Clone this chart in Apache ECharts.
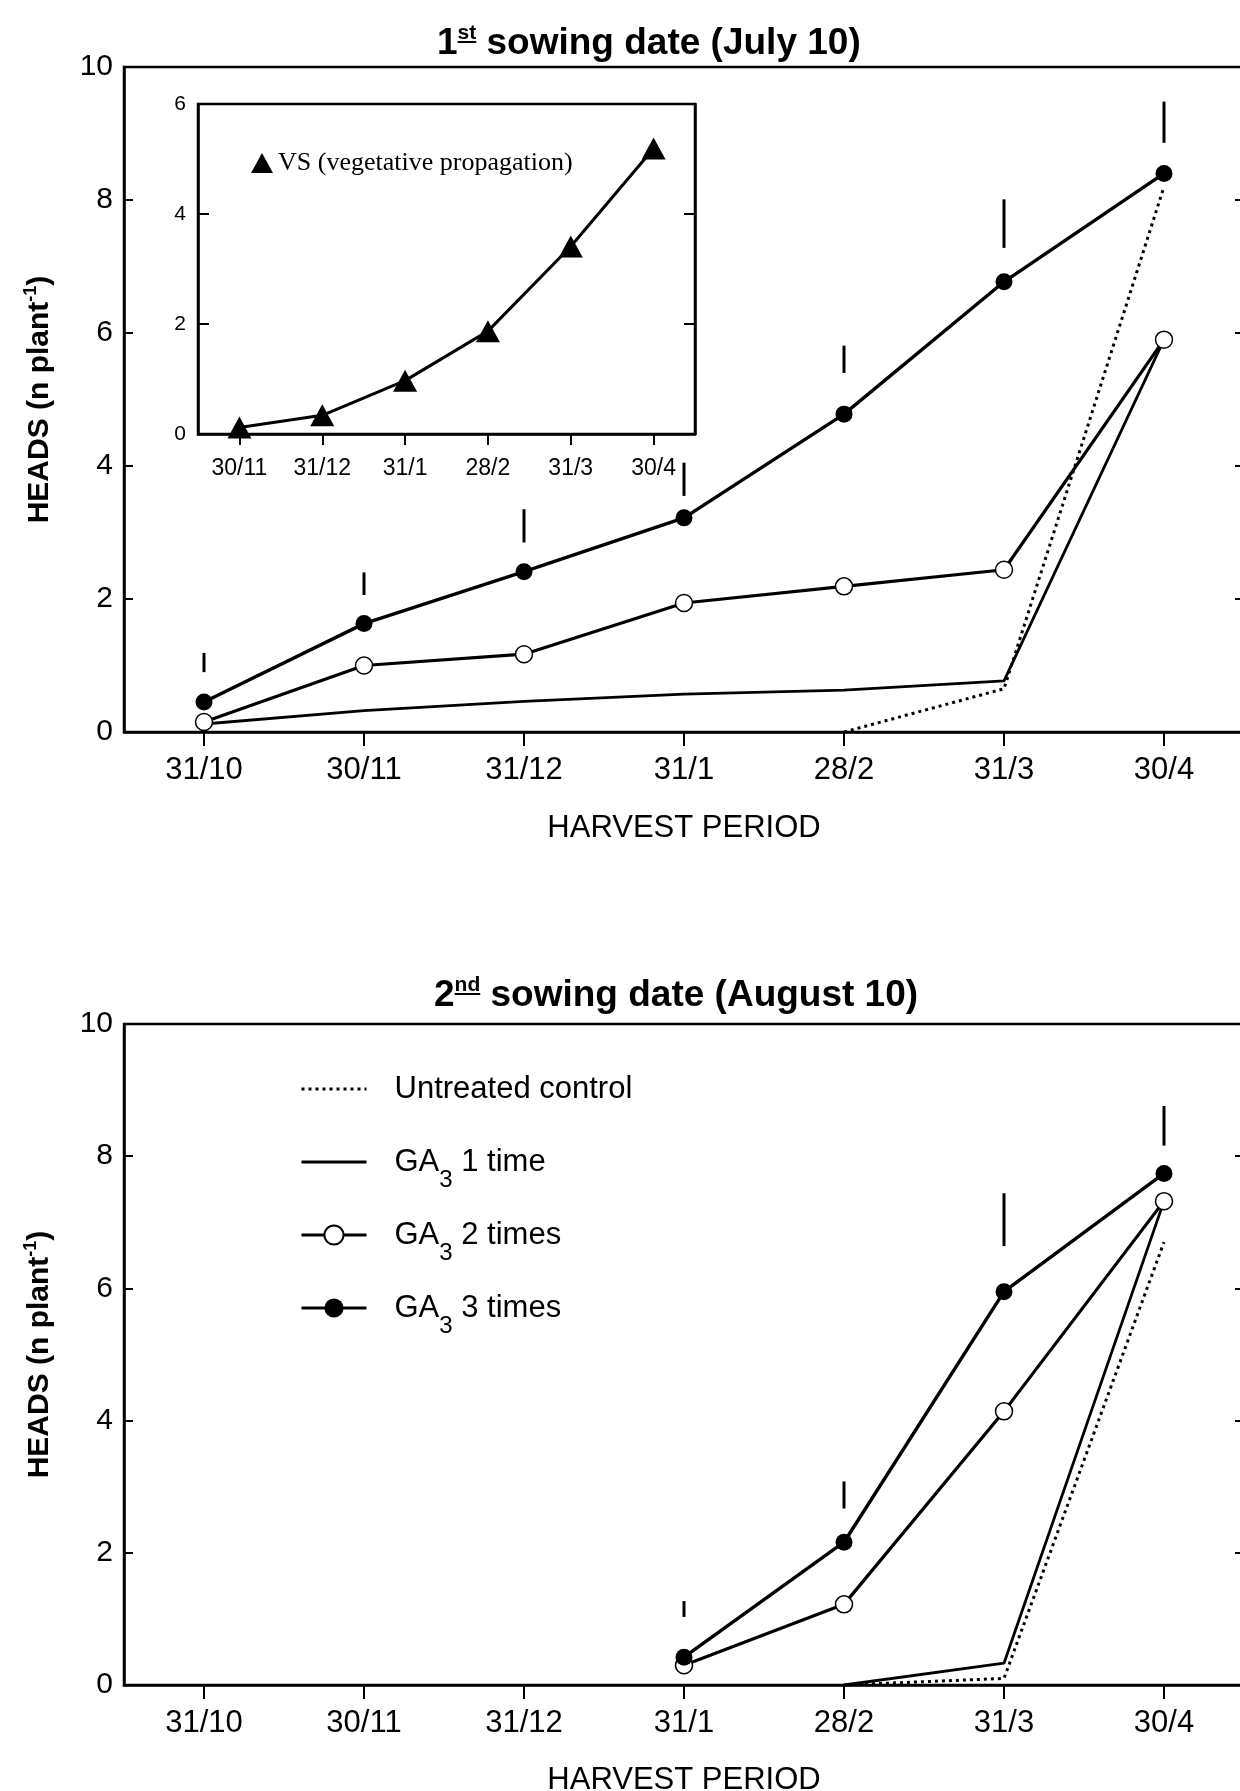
<!DOCTYPE html>
<html><head><meta charset="utf-8">
<script src="https://cdn.jsdelivr.net/npm/echarts@6/dist/echarts.min.js"></script>
<style>html,body{margin:0;padding:0;background:#fff}#c{width:1240px;height:1791px}</style>
</head><body><div id="c"></div>
<script>
// ---------- data ----------
const categories = ['31/10', '30/11', '31/12', '31/1', '28/2', '31/3', '30/4'];
const insetCategories = ['30/11', '31/12', '31/1', '28/2', '31/3', '30/4'];
const seriesNames = ['Untreated control', 'GA3 1 time', 'GA3 2 times', 'GA3 3 times'];
const insetName = 'VS (vegetative propagation)';
const titleTop = ['1', 'st', ' sowing date (July 10)'];
const titleBottom = ['2', 'nd', ' sowing date (August 10)'];
const yAxisName = ['HEADS (n plant', '-1', ')'];
const xAxisName = 'HARVEST PERIOD';

const vsValues = [0.12, 0.34, 0.97, 1.87, 3.41, 5.19];

const julyControl = [null, null, null, null, 0, 0.65, 8.2];
const julyGa1 = [0.12, 0.32, 0.46, 0.57, 0.63, 0.77, 5.9];
const julyGa2 = [0.15, 1.0, 1.17, 1.94, 2.19, 2.44, 5.9];
const julyGa3 = [0.45, 1.63, 2.41, 3.22, 4.78, 6.77, 8.4];
// [category index, low, high]
const julyLsd = [[0, 0.90, 1.19], [1, 2.06, 2.40], [2, 2.85, 3.35], [3, 3.55, 4.05], [4, 5.40, 5.81], [5, 7.28, 8.01], [6, 8.86, 9.48]];

const augControl = [null, null, null, null, 0, 0.1, 6.7];
const augGa1 = [null, null, null, null, 0, 0.33, 7.32];
const augGa2 = [null, null, null, 0.30, 1.22, 4.14, 7.32];
const augGa3 = [null, null, null, 0.42, 2.16, 5.95, 7.74];
const augLsd = [[3, 1.03, 1.27], [4, 2.67, 3.08], [5, 6.64, 7.44], [6, 8.16, 8.76]];

// ---------- styling ----------
const SANS = '"Liberation Sans", Arial, Helvetica, sans-serif';
const SERIF = '"Liberation Serif", "Times New Roman", serif';
const BLACK = '#000';
const axisLine = { show: true, onZero: false, lineStyle: { color: BLACK, width: 2.5 } };

const G = [
  { left: 124, top: 67, width: 1120, height: 665 },
  { left: 124, top: 1024, width: 1120, height: 661 },
  { left: 198, top: 104, width: 497, height: 330 }
];

function mainX(gi, gap) {
  return {
    type: 'category', gridIndex: gi, data: categories, boundaryGap: true,
    axisLine: axisLine,
    axisTick: { show: true, alignWithLabel: true, length: 14, lineStyle: { color: BLACK, width: 2 } },
    axisLabel: { color: BLACK, fontSize: 31, fontFamily: SANS, margin: 23, interval: 0 },
    splitLine: { show: false },
    name: xAxisName, nameLocation: 'middle', nameGap: gap,
    nameTextStyle: { color: BLACK, fontSize: 31, fontFamily: SANS }
  };
}
const supRich = { sup: { fontSize: 18, fontWeight: 'bold', fontFamily: SANS, color: BLACK, verticalAlign: 'top', lineHeight: 18 } };
function mainY(gi) {
  return {
    type: 'value', gridIndex: gi, min: 0, max: 10, interval: 2, position: 'left',
    axisLine: axisLine,
    axisTick: { show: true, inside: true, length: 9, lineStyle: { color: BLACK, width: 2 } },
    axisLabel: { color: BLACK, fontSize: 30, fontFamily: SANS, margin: 11 },
    splitLine: { show: false },
    name: yAxisName[0] + '{sup|' + yAxisName[1] + '}' + yAxisName[2],
    nameLocation: 'middle', nameRotate: 90, nameGap: 66,
    nameTextStyle: { color: BLACK, fontSize: 30, fontWeight: 'bold', fontFamily: SANS, lineHeight: 36, rich: supRich }
  };
}
function rightY(gi, max, interval, len) {
  return {
    type: 'value', gridIndex: gi, min: 0, max: max, interval: interval, position: 'right',
    axisLine: axisLine,
    axisTick: { show: true, inside: true, length: len, lineStyle: { color: BLACK, width: 2 } },
    axisLabel: { show: false }, splitLine: { show: false }
  };
}

function lineSeries(kind, name, data, xi, yi) {
  const s = {
    type: 'line', name: name, data: data, xAxisIndex: xi, yAxisIndex: yi,
    connectNulls: false, silent: true, emphasis: { disabled: true }, z: 3
  };
  if (kind === 0) {
    s.symbol = 'none';
    s.itemStyle = { color: BLACK };
    s.lineStyle = { color: BLACK, width: 3, type: [3, 4] };
  } else if (kind === 1) {
    s.symbol = 'none';
    s.itemStyle = { color: BLACK };
    s.lineStyle = { color: BLACK, width: 2.8 };
  } else if (kind === 2) {
    s.symbol = 'circle'; s.symbolSize = 17;
    s.itemStyle = { color: '#fff', borderColor: BLACK, borderWidth: 1.5 };
    s.lineStyle = { color: BLACK, width: 3.2 };
    s.z = 4;
  } else {
    s.symbol = 'circle'; s.symbolSize = 17;
    s.itemStyle = { color: BLACK };
    s.lineStyle = { color: BLACK, width: 3.4 };
    s.z = 5;
  }
  return s;
}

function lsdSeries(data, xi, yi) {
  return {
    type: 'custom', data: data, xAxisIndex: xi, yAxisIndex: yi, silent: true, z: 6,
    encode: { x: 0, y: [1, 2] },
    renderItem: function (params, api) {
      const p1 = api.coord([api.value(0), api.value(1)]);
      const p2 = api.coord([api.value(0), api.value(2)]);
      return { type: 'line', shape: { x1: p1[0], y1: p1[1], x2: p2[0], y2: p2[1] },
        style: { stroke: BLACK, lineWidth: 3 } };
    }
  };
}

// measure text for title underline decorations
const mctx = document.createElement('canvas').getContext('2d');
function tw(txt, font) { mctx.font = font; return mctx.measureText(txt).width; }
const TITLE_FS = 37, SUP_FS = 21;
const titleFont = 'bold ' + TITLE_FS + 'px ' + SANS;
const supFont = 'bold ' + SUP_FS + 'px ' + SANS;
const titleDefs = [
  { parts: titleTop, left: 437, top: 23 },
  { parts: titleBottom, left: 434, top: 975 }
];
const titles = titleDefs.map(d => ({
  text: d.parts[0] + '{sup|' + d.parts[1] + '}' + d.parts[2],
  left: d.left, top: d.top, padding: 0,
  textStyle: {
    color: BLACK, fontSize: TITLE_FS, fontWeight: 'bold', fontFamily: SANS, lineHeight: 42,
    rich: { sup: { fontSize: SUP_FS, fontWeight: 'bold', fontFamily: SANS, color: BLACK, verticalAlign: 'top', lineHeight: 22 } }
  }
}));
const underlines = titleDefs.map(d => {
  const x1 = d.left + tw(d.parts[0], titleFont);
  const x2 = x1 + tw(d.parts[1], supFont);
  const y = d.top + 19;
  return { type: 'line', shape: { x1: x1, y1: y, x2: x2, y2: y }, style: { stroke: BLACK, lineWidth: 2 }, silent: true };
});

const noSymbol = { color: 'rgba(0,0,0,0)', borderWidth: 0 };
const legendData = seriesNames.map((n, i) => i < 2 ? { name: n, itemStyle: noSymbol } : { name: n });

const option = {
  animation: false,
  backgroundColor: '#fff',
  title: titles,
  graphic: underlines,
  grid: G.map((g, i) => Object.assign({
    show: true, borderColor: BLACK, borderWidth: 2.5,
    backgroundColor: i === 2 ? '#fff' : 'transparent',
    containLabel: false, outerBoundsMode: 'none'
  }, g)),
  xAxis: [
    mainX(0, 81),
    mainX(1, 80),
    {
      type: 'category', gridIndex: 2, data: insetCategories, boundaryGap: true,
      axisLine: axisLine,
      axisTick: { show: true, alignWithLabel: true, length: 11, lineStyle: { color: BLACK, width: 2 } },
      axisLabel: { color: BLACK, fontSize: 23, fontFamily: SANS, margin: 23, interval: 0 },
      splitLine: { show: false }
    }
  ],
  yAxis: [
    mainY(0), rightY(0, 10, 2, 9),
    mainY(1), rightY(1, 10, 2, 9),
    {
      type: 'value', gridIndex: 2, min: 0, max: 6, interval: 2, position: 'left',
      axisLine: axisLine,
      axisTick: { show: true, inside: true, length: 11, lineStyle: { color: BLACK, width: 2 } },
      axisLabel: { color: BLACK, fontSize: 21, fontFamily: SANS, margin: 12 },
      splitLine: { show: false }
    },
    rightY(2, 6, 2, 11)
  ],
  legend: [
    {
      data: legendData, orient: 'vertical', left: 300, top: 1059, padding: 0,
      itemWidth: 65, itemHeight: 24, itemGap: 13, selectedMode: false,
      lineStyle: { width: 3 },
      formatter: n => n.replace('GA3', 'GA{sub|3}'),
      textStyle: {
        color: BLACK, fontSize: 31, fontFamily: SANS, lineHeight: 60, padding: [0, 0, 0, 23],
        rich: { sub: { fontSize: 24, lineHeight: 24, verticalAlign: 'bottom', fontFamily: SANS, color: BLACK } }
      }
    },
    {
      data: [{ name: insetName, icon: 'triangle' }], left: 251, top: 150, padding: 0,
      itemWidth: 22, itemHeight: 20, selectedMode: false,
      itemStyle: { color: BLACK },
      textStyle: { color: BLACK, fontSize: 26, fontFamily: SERIF }
    }
  ],
  series: [
    lineSeries(0, seriesNames[0], julyControl, 0, 0),
    lineSeries(1, seriesNames[1], julyGa1, 0, 0),
    lineSeries(2, seriesNames[2], julyGa2, 0, 0),
    lineSeries(3, seriesNames[3], julyGa3, 0, 0),
    lsdSeries(julyLsd, 0, 0),
    lineSeries(0, seriesNames[0], augControl, 1, 2),
    lineSeries(1, seriesNames[1], augGa1, 1, 2),
    lineSeries(2, seriesNames[2], augGa2, 1, 2),
    lineSeries(3, seriesNames[3], augGa3, 1, 2),
    lsdSeries(augLsd, 1, 2),
    {
      type: 'line', name: insetName, data: vsValues, xAxisIndex: 2, yAxisIndex: 4,
      symbol: 'triangle', symbolSize: [24, 22], silent: true, z: 8,
      itemStyle: { color: BLACK }, lineStyle: { color: BLACK, width: 3 }
    }
  ]
};

const chart = echarts.init(document.getElementById('c'), null, { renderer: 'canvas' });
chart.setOption(option);
</script>
</body></html>
